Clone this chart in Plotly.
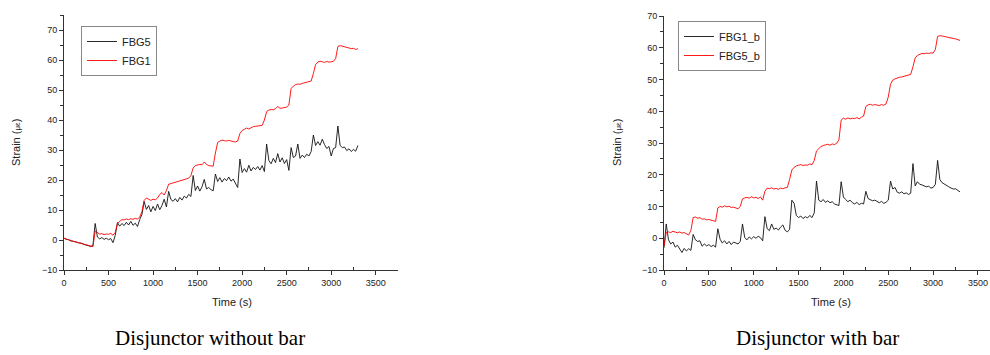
import plotly.graph_objects as go

# ---------------- data ----------------
TIME = list(range(0, 3301, 25))  # seconds (sampled every 25 s)

# Left panel: Disjunctor without bar
FBG5 = [0.6, 0.2, 0.1, -0.3, -0.4, -0.7, -0.8, -1.0, -1.1, -1.5, -1.6, -1.9, -2.2, -1.8,
        5.5, 1.0, 0.4, 0.8, 0.2, 0.6, 0.1, 0.5, -0.9, 1.5,
        5.8, 4.6, 5.5, 4.8, 5.9, 5.0, 6.2, 4.9, 5.6, 4.5, 6.8, 8.5,
        12.8, 10.2, 11.5, 9.4, 11.2, 9.8, 12.0, 10.1, 11.5, 13.6, 11.0,
        16.2, 13.5, 12.9, 13.8, 12.7, 14.2, 13.3, 14.6, 14.0, 15.2, 14.5,
        21.5, 16.5, 18.0, 16.3, 17.8, 20.2, 17.0, 17.5, 16.8, 16.4,
        22.0, 19.5, 20.8, 19.3, 20.5, 19.8, 21.0, 19.6, 20.3, 18.8, 17.5,
        27.0, 22.5, 23.8, 22.6, 24.9, 23.0, 24.2, 23.5, 24.5, 23.3, 24.8, 22.8,
        32.0, 26.5, 25.4, 27.2, 25.8, 28.8, 26.0, 27.4, 25.5, 26.8, 23.2,
        30.8, 27.5, 28.0, 32.0, 27.2, 28.3, 27.5, 28.6, 28.0, 29.5,
        35.0, 31.5, 32.8, 31.6, 33.6, 31.8, 30.5, 31.2, 28.0, 30.5, 30.8,
        38.0, 31.5, 30.8, 31.0, 29.8, 30.4, 29.5, 30.2, 29.6, 31.5]

FBG1 = [0.6, 0.3, 0.1, -0.2, -0.4, -0.6, -0.8, -0.9, -1.2, -1.4, -1.6, -1.8, -2.0, -2.2,
        3.0, 2.5, 2.0, 2.1, 1.8, 2.0, 1.9, 2.2, 1.6, 2.5,
        5.5, 6.2, 6.8, 6.7, 7.0, 6.8, 7.1, 6.9, 7.2, 7.0, 7.6, 9.5,
        13.2, 14.0, 13.5, 13.2, 13.6, 13.4, 14.0, 15.2, 15.8, 15.0, 16.5,
        18.6, 18.8, 19.0, 19.2, 19.5, 19.6, 20.0, 20.1, 20.3, 20.6, 21.5,
        24.0, 24.8, 25.0, 25.2, 25.1, 26.0, 25.2, 24.8, 24.7, 24.6,
        29.0, 32.5, 33.0, 33.3, 33.1, 33.0, 33.2, 32.9, 32.8, 32.7, 33.0,
        35.5, 36.5, 36.9, 37.3, 37.0, 37.5, 37.8, 37.9, 38.0, 38.1, 38.2, 40.0,
        42.8, 43.3, 43.5, 43.4, 43.8, 44.5, 43.9, 44.0, 44.2, 44.3, 45.0,
        50.5, 51.3, 51.8, 52.0, 51.9, 52.2, 52.4, 52.5, 52.7, 53.0,
        55.5, 58.5, 59.3, 59.6, 59.4, 59.2, 59.5, 59.3, 59.4, 59.6, 60.5,
        64.5, 64.8, 64.6, 64.3, 64.2, 64.0, 63.8, 63.9, 63.5, 63.8]

# Right panel: Disjunctor with bar
FBG1_b = [-3.0, 4.5, -0.5, -1.8, -1.2, -2.8, -2.2, -3.5, -4.5, -3.2, -4.0, -3.3, -3.8,
          1.2, -0.5, -1.0, -0.8, -2.5, -1.8, -2.4, -2.0, -2.6, -2.2, -2.8,
          3.0, -0.3, -1.5, -0.8, -1.8, -1.0, -2.0, -1.2, -1.5, -1.8, -1.0,
          4.5, 0.2, -0.5, 0.4, -0.2, 0.5, 0.0, 0.6, 0.2, -0.8,
          6.8, 3.0, 2.4, 4.5, 2.8, 3.2, 2.6, 3.5, 4.2, 2.5, 2.0, 2.8,
          12.0, 11.0, 7.2, 6.5, 7.0, 6.2, 6.8, 6.4, 7.2, 6.5, 8.0,
          18.0, 12.0, 11.5, 12.2, 11.3, 11.8, 11.2, 11.5, 10.8, 10.5, 10.3,
          17.8, 13.0, 12.2, 11.5, 12.0, 11.2, 10.8, 11.3, 10.6, 11.0, 10.8,
          14.8, 12.5, 12.2, 11.8, 12.0, 11.5, 11.2, 11.6, 11.0, 11.3, 12.0,
          18.0, 15.5, 16.0, 14.5, 14.2, 14.6, 14.0, 14.3, 13.8, 14.2,
          23.5, 16.5, 17.8, 17.0, 16.8, 16.5, 16.2, 16.4, 15.8, 16.0, 17.0,
          24.5, 18.5, 17.5, 17.0, 16.5, 16.2, 15.8, 15.5, 15.6, 15.0, 14.6]

FBG5_b = [-2.5, 1.8, 2.0, 1.8, 2.2, 1.9, 1.7, 2.0, 1.6, 1.8, 1.4, 1.0, 2.5,
          6.5, 6.7, 6.3, 6.5, 6.0, 6.1, 5.8, 5.9, 5.6, 5.5, 5.3,
          9.5, 10.0, 9.8, 10.2, 9.9, 10.1, 9.7, 9.8, 9.5, 9.3, 10.0,
          12.4, 12.7, 12.9, 12.6, 13.1, 12.7, 12.9, 12.5, 13.0, 12.0,
          14.8, 15.8, 15.6, 15.9, 15.5, 15.7, 15.4, 15.8, 15.6, 15.9, 16.0, 18.5,
          21.5, 22.3, 22.8, 23.0, 23.2, 22.9, 23.1, 23.0, 23.4, 23.2, 24.5,
          27.5, 28.3, 28.9, 29.2, 29.4, 29.6, 29.3, 29.7, 29.5, 29.9, 31.0,
          37.2, 37.8, 37.5, 37.9, 37.6, 37.8, 37.7, 38.0, 37.6, 38.1, 38.5,
          41.5, 42.0, 42.2, 41.9, 42.1, 42.0, 41.8, 42.1, 41.9, 42.3, 44.5,
          48.5, 49.8, 50.2, 50.5, 50.7, 50.8, 51.0, 51.2, 51.4, 51.6, 54.0,
          56.8, 57.6, 58.0, 58.2, 58.1, 58.3, 58.2, 58.4, 58.3, 59.5,
          63.6, 63.8, 63.7, 63.5, 63.4, 63.2, 63.1, 62.9, 62.8, 62.5, 62.3]

X_TICKS = [0, 500, 1000, 1500, 2000, 2500, 3000, 3500]
Y_TICKS = [-10, 0, 10, 20, 30, 40, 50, 60, 70]

X_TITLE = "Time (s)"
Y_TITLE = "Strain (<span style='font-size:8px'>με</span>)"
CAPTION_LEFT = "Disjunctor without bar"
CAPTION_RIGHT = "Disjunctor with bar"

# ---------------- figure ----------------
W, H = 990, 355
BLACK = "#111111"
RED = "#ff0000"

fig = go.Figure()

fig.add_trace(go.Scatter(x=TIME, y=FBG5, mode="lines", name="FBG5",
                         line=dict(color=BLACK, width=0.9), xaxis="x", yaxis="y",
                         legend="legend"))
fig.add_trace(go.Scatter(x=TIME, y=FBG1, mode="lines", name="FBG1",
                         line=dict(color=RED, width=0.9), xaxis="x", yaxis="y",
                         legend="legend"))
fig.add_trace(go.Scatter(x=TIME, y=FBG1_b, mode="lines", name="FBG1_b",
                         line=dict(color=BLACK, width=0.9), xaxis="x2", yaxis="y2",
                         legend="legend2"))
fig.add_trace(go.Scatter(x=TIME, y=FBG5_b, mode="lines", name="FBG5_b",
                         line=dict(color=RED, width=0.9), xaxis="x2", yaxis="y2",
                         legend="legend2"))

tickfont = dict(family="Liberation Sans, Arial", size=9, color="#222222")


def xaxis(domain, rng, anchor):
    return dict(domain=domain, range=rng, anchor=anchor, tickvals=X_TICKS,
                showline=True, linecolor="#333333", linewidth=1,
                ticks="outside", ticklen=4, tickcolor="#333333", tickwidth=1,
                minor=dict(ticks="inside", ticklen=3, tickcolor="#333333",
                           tickwidth=1, tickvals=[250, 750, 1250, 1750, 2250, 2750, 3250]),
                showgrid=False, zeroline=False, tickfont=tickfont, fixedrange=True,
                automargin=False)


def yaxis(domain, rng, anchor):
    return dict(domain=domain, range=rng, anchor=anchor, tickvals=Y_TICKS,
                showline=True, linecolor="#333333", linewidth=1,
                ticks="outside", ticklen=4, tickcolor="#333333", tickwidth=1,
                minor=dict(ticks="outside", ticklen=3, tickcolor="#333333",
                           tickwidth=1, tickvals=[-5, 5, 15, 25, 35, 45, 55, 65, 75]),
                showgrid=False, zeroline=False, tickfont=tickfont, fixedrange=True,
                automargin=False)


y_bot = (H - 270) / H
fig.update_layout(
    width=W, height=H,
    margin=dict(l=0, r=0, t=0, b=0),
    paper_bgcolor="white", plot_bgcolor="white",
    showlegend=True,
    xaxis=xaxis([64 / W, 398 / W], [0, 3750], "y"),
    yaxis=yaxis([y_bot, (H - 15) / H], [-10, 75], "x"),
    xaxis2=xaxis([664 / W, 1.0], [0, 3634], "y2"),
    yaxis2=yaxis([y_bot, (H - 16) / H], [-10, 70], "x2"),
    legend=dict(x=81 / W, y=(H - 26) / H, xanchor="left", yanchor="top",
                bgcolor="white", bordercolor="#888888", borderwidth=1,
                font=dict(family="Liberation Sans, Arial", size=11, color="#222222"),
                itemwidth=30, tracegroupgap=0),
    legend2=dict(x=678 / W, y=(H - 21) / H, xanchor="left", yanchor="top",
                 bgcolor="white", bordercolor="#888888", borderwidth=1,
                 font=dict(family="Liberation Sans, Arial", size=11, color="#222222"),
                 itemwidth=30, tracegroupgap=0),
)

ann_font = dict(family="Liberation Sans, Arial", size=11, color="#222222")
cap_font = dict(family="Liberation Serif, Times New Roman", size=21, color="#000000")
annotations = [
    dict(text=X_TITLE, x=232 / W, y=(H - 302) / H, font=ann_font),
    dict(text=Y_TITLE, x=16 / W, y=(H - 143) / H, font=ann_font, textangle=-90),
    dict(text=X_TITLE, x=831 / W, y=(H - 302) / H, font=ann_font),
    dict(text=Y_TITLE, x=617 / W, y=(H - 143) / H, font=ann_font, textangle=-90),
    dict(text=CAPTION_LEFT, x=210 / W, y=(H - 338) / H, font=cap_font),
    dict(text=CAPTION_RIGHT, x=817 / W, y=(H - 338) / H, font=cap_font),
]
for a in annotations:
    a.update(xref="paper", yref="paper", showarrow=False,
             xanchor="center", yanchor="middle")
fig.update_layout(annotations=annotations)

fig.write_html(
    "out.html",
    config={"displayModeBar": False, "staticPlot": True},
    post_script="document.body.style.margin='0px';document.body.style.overflow='hidden';",
)
